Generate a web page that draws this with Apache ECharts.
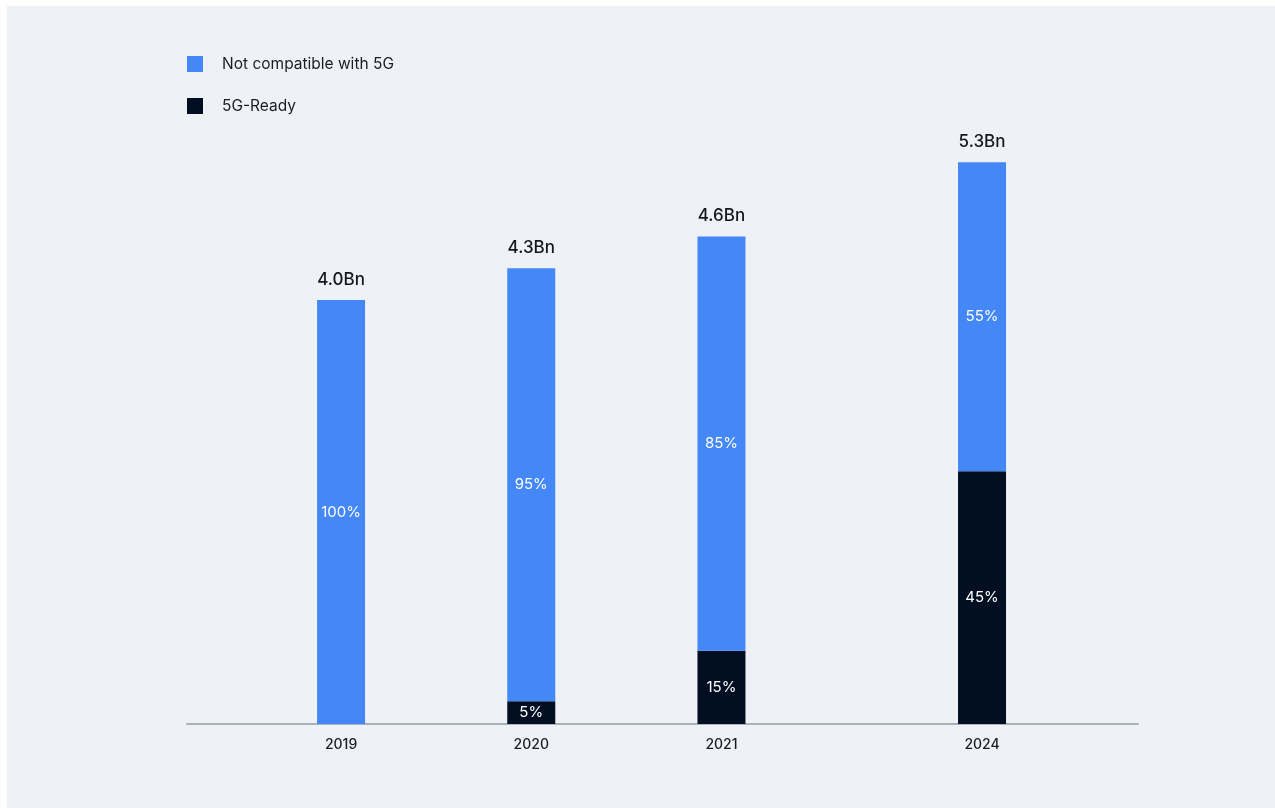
<!DOCTYPE html>
<html>
<head>
<meta charset="utf-8">
<script src="https://cdn.jsdelivr.net/npm/echarts@6/dist/echarts.min.js"></script>
<style>
  html, body { margin: 0; padding: 0; background: #ffffff; width: 1275px; height: 808px; overflow: hidden; }
  #chart { position: absolute; left: 7px; top: 6px; width: 1268px; height: 802px; }
</style>
</head>
<body>
<div id="chart"></div>
<script>
const years = [2019, 2020, 2021, 2024];
const totalsBn = [4.0, 4.3, 4.6, 5.3];
const notCompatiblePct = [100, 95, 85, 55];
const readyPct = [0, 5, 15, 45];
const seriesNames = ['Not compatible with 5G', '5G-Ready'];

const BLUE = '#4487F7';
const DARK = '#020F22';
const font = 'Inter, "Noto Sans", sans-serif';

// [year, base, top, pct]
const readyData = years.map((y, i) => {
  const v = totalsBn[i] * readyPct[i] / 100;
  return [y, 0, v, readyPct[i]];
});
const notData = years.map((y, i) => {
  const base = totalsBn[i] * readyPct[i] / 100;
  return [y, base, base + totalsBn[i] * notCompatiblePct[i] / 100, notCompatiblePct[i]];
});
const totalData = years.map((y, i) => [y, totalsBn[i]]);

function barRenderer(color) {
  return function (params, api) {
    const x = api.value(0), lo = api.value(1), hi = api.value(2), pct = api.value(3);
    if (!(hi - lo > 0)) return null;
    const pTop = api.coord([x, hi]);
    const pBot = api.coord([x, lo]);
    const w = 48;
    return {
      type: 'rect',
      shape: { x: pTop[0] - w / 2, y: pTop[1], width: w, height: pBot[1] - pTop[1] },
      style: { fill: color },
      textContent: {
        style: { text: pct + '%', fill: '#ffffff', fontSize: 15, fontFamily: font }
      },
      textConfig: { position: 'inside' }
    };
  };
}

const chart = echarts.init(document.getElementById('chart'));
chart.setOption({
  backgroundColor: '#EEF2F7',
  animation: false,
  textStyle: { fontFamily: font },
  legend: {
    orient: 'vertical',
    left: 175,
    top: 45,
    itemWidth: 16,
    itemHeight: 16,
    itemGap: 26,
    icon: 'rect',
    data: seriesNames,
    textStyle: { fontSize: 15.5, color: '#1b1d22', fontFamily: font, padding: [0, 0, 0, 14] }
  },
  grid: { left: 180, right: 137, top: 82, bottom: 84 },
  xAxis: {
    type: 'value',
    min: 2018.19,
    max: 2024.82,
    breaks: [{ start: 2021.6, end: 2023.23, gap: 0 }],
    breakArea: { show: false },
    axisLine: { show: true, lineStyle: { color: '#A9B1BD', width: 2 } },
    axisTick: { show: false },
    splitLine: { show: false },
    axisLabel: {
      customValues: years,
      formatter: (v) => String(Math.round(v)),
      fontSize: 14,
      fontWeight: 500,
      color: '#1b1d22',
      margin: 14,
      fontFamily: font
    }
  },
  yAxis: {
    type: 'value',
    min: 0,
    max: 6,
    show: false,
    splitLine: { show: false }
  },
  series: [
    {
      name: '5G-Ready',
      type: 'custom',
      data: readyData,
      encode: { x: 0, y: [1, 2] },
      itemStyle: { color: DARK },
      renderItem: barRenderer(DARK)
    },
    {
      name: 'Not compatible with 5G',
      type: 'custom',
      data: notData,
      encode: { x: 0, y: [1, 2] },
      itemStyle: { color: BLUE },
      renderItem: barRenderer(BLUE)
    },
    {
      name: 'total',
      type: 'custom',
      data: totalData,
      encode: { x: 0, y: 1 },
      renderItem: function (params, api) {
        const p = api.coord([api.value(0), api.value(1)]);
        return {
          type: 'text',
          x: p[0],
          y: p[1] - 12,
          style: {
            text: api.value(1).toFixed(1) + 'Bn',
            fill: '#15171c',
            fontSize: 17,
            fontWeight: 500,
            fontFamily: font,
            align: 'center',
            verticalAlign: 'bottom'
          }
        };
      }
    }
  ]
});
</script>
</body>
</html>
